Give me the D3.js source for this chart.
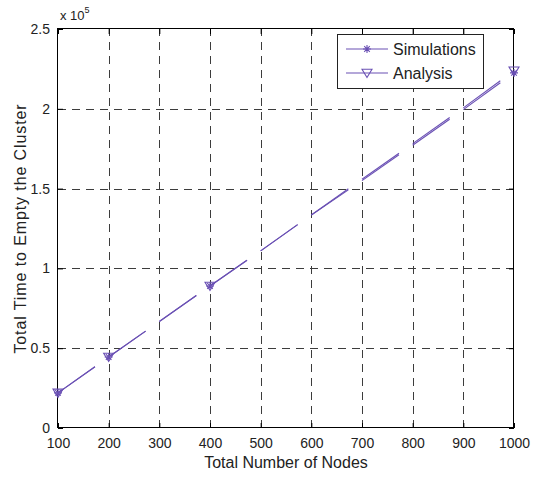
<!DOCTYPE html>
<html>
<head>
<meta charset="utf-8">
<script src="https://cdn.jsdelivr.net/npm/d3@7"></script>
<style>
  html, body { margin: 0; padding: 0; background: #fff; }
  svg { display: block; font-family: "Liberation Sans", Arial, sans-serif; }
</style>
</head>
<body>
<svg id="chart" width="535" height="481"></svg>
<script>
// Number of nodes in the cluster
const nodes = [100, 200, 300, 400, 500, 600, 700, 800, 900, 1000];
// Total time to empty the cluster
const simulations = [22000, 44500, 66700, 89000, 111000, 133500, 155000, 177200, 199500, 222500];
const analysis    = [22000, 44500, 66700, 89000, 111000, 133500, 155900, 178200, 200600, 223800];
// Node counts that carry a marker
const markedNodes = [100, 200, 400, 1000];

const xTicks = [100, 200, 300, 400, 500, 600, 700, 800, 900, 1000];
const xTickLabels = ["100", "200", "300", "400", "500", "600", "700", "800", "900", "1000"];
const yTicks = [0, 50000, 100000, 150000, 200000, 250000];
const yTickLabels = ["0", "0.5", "1", "1.5", "2", "2.5"];

const seriesNames = ["Simulations", "Analysis"];
const lineColor = "#6a50b4";

const svg = d3.select("#chart");
const plot = { left: 58, right: 514, top: 29, bottom: 428 };

const x = d3.scaleLinear().domain([100, 1000]).range([plot.left, plot.right]);
const y = d3.scaleLinear().domain([0, 250000]).range([plot.bottom, plot.top]);
const crisp = v => Math.round(v) + 0.5;

// dashed grid
const grid = svg.append("g").attr("stroke", "#3c3c3c").attr("stroke-width", 1)
  .attr("stroke-dasharray", "8,6").attr("fill", "none");
grid.selectAll("line.gx").data(xTicks.slice(1, -1)).join("line")
  .attr("x1", d => crisp(x(d))).attr("x2", d => crisp(x(d)))
  .attr("y1", plot.bottom).attr("y2", plot.top);
grid.selectAll("line.gy").data(yTicks.slice(1, -1)).join("line")
  .attr("y1", d => crisp(y(d))).attr("y2", d => crisp(y(d)))
  .attr("x1", plot.left).attr("x2", plot.right);

// axes with inward ticks on all four sides
const tickLen = 5;
const bottomAxis = d3.axisBottom(x).tickValues(xTicks).tickSizeInner(-tickLen).tickSizeOuter(0).tickPadding(10)
  .tickFormat((d, i) => xTickLabels[i]);
const leftAxis = d3.axisLeft(y).tickValues(yTicks).tickSizeInner(-tickLen).tickSizeOuter(0).tickPadding(8)
  .tickFormat((d, i) => yTickLabels[i]);
const topAxis = d3.axisTop(x).tickValues(xTicks).tickSizeInner(-tickLen).tickSizeOuter(0).tickFormat("");
const rightAxis = d3.axisRight(y).tickValues(yTicks).tickSizeInner(-tickLen).tickSizeOuter(0).tickFormat("");

function styleAxis(g) {
  g.select(".domain").remove();
  g.selectAll(".tick line").attr("stroke", "#000");
  g.selectAll(".tick text").attr("fill", "#222").attr("font-size", 14)
    .attr("font-family", "Liberation Sans, Arial, sans-serif");
}
svg.append("g").attr("transform", `translate(0,${plot.bottom})`).call(bottomAxis).call(styleAxis);
svg.append("g").attr("transform", `translate(${plot.left},0)`).call(leftAxis).call(styleAxis);
svg.append("g").attr("transform", `translate(0,${plot.top})`).call(topAxis).call(styleAxis);
svg.append("g").attr("transform", `translate(${plot.right},0)`).call(rightAxis).call(styleAxis);

// frame
svg.append("rect")
  .attr("x", crisp(plot.left) - 1).attr("y", crisp(plot.top) - 1)
  .attr("width", Math.round(plot.right - plot.left)).attr("height", Math.round(plot.bottom - plot.top))
  .attr("fill", "none").attr("stroke", "#000").attr("stroke-width", 1);

// data lines: each interval drawn as its own stroke
function drawSeries(values) {
  const segs = d3.pairs(nodes.map((n, i) => [x(n), y(values[i])]));
  svg.append("g").selectAll("line").data(segs).join("line")
    .attr("x1", d => d[0][0]).attr("y1", d => d[0][1])
    .attr("x2", d => d[1][0]).attr("y2", d => d[1][1])
    .attr("stroke", lineColor).attr("stroke-width", 1.1)
    .attr("stroke-dasharray", d => {
      const len = Math.hypot(d[1][0] - d[0][0], d[1][1] - d[0][1]);
      return `${(0.73 * len).toFixed(1)},${len.toFixed(1)}`;
    });
}
drawSeries(simulations);
drawSeries(analysis);

// marker shapes
function asterisk(g, cx, cy, r) {
  const p = d3.path();
  p.moveTo(cx, cy - r); p.lineTo(cx, cy + r);
  p.moveTo(cx - r * 0.7, cy - r * 0.7); p.lineTo(cx + r * 0.7, cy + r * 0.7);
  p.moveTo(cx - r * 0.7, cy + r * 0.7); p.lineTo(cx + r * 0.7, cy - r * 0.7);
  p.moveTo(cx - r, cy); p.lineTo(cx + r, cy);
  g.append("path").attr("d", p.toString()).attr("stroke", lineColor).attr("stroke-width", 1.1).attr("fill", "none");
}
function triangleDown(g, cx, cy, r) {
  const p = d3.path();
  p.moveTo(cx - r, cy - r * 0.75); p.lineTo(cx + r, cy - r * 0.75); p.lineTo(cx, cy + r * 0.9); p.closePath();
  g.append("path").attr("d", p.toString()).attr("stroke", lineColor).attr("stroke-width", 1.1).attr("fill", "none");
}

const markers = svg.append("g");
markedNodes.forEach(n => {
  const i = nodes.indexOf(n);
  asterisk(markers, x(n), y(simulations[i]), 4);
  triangleDown(markers, x(n), y(analysis[i]), 5);
});

// axis titles
svg.append("text").attr("x", (plot.left + plot.right) / 2).attr("y", 468)
  .attr("text-anchor", "middle").attr("font-size", 16).attr("fill", "#222")
  .text("Total Number of Nodes");
svg.append("text").attr("transform", `translate(26,${(plot.top + plot.bottom) / 2}) rotate(-90)`)
  .attr("text-anchor", "middle").attr("font-size", 16).attr("letter-spacing", 0.9).attr("fill", "#222")
  .text("Total Time to Empty the Cluster");

// exponent label
const expo = svg.append("text").attr("x", 60).attr("y", 20).attr("font-size", 13).attr("fill", "#222");
expo.append("tspan").text("x 10");
expo.append("tspan").attr("dy", -7).attr("font-size", 9).text("5");

// legend
const legend = svg.append("g");
legend.append("rect").attr("x", 337.5).attr("y", 34.5).attr("width", 146).attr("height", 54)
  .attr("fill", "#fff").attr("stroke", "#222").attr("stroke-width", 1);
const rowsY = [49, 73];
seriesNames.forEach((name, i) => {
  legend.append("line").attr("x1", 346).attr("x2", 388).attr("y1", rowsY[i]).attr("y2", rowsY[i])
    .attr("stroke", lineColor).attr("stroke-width", 1.1);
  if (i === 0) asterisk(legend, 367, rowsY[i], 4);
  else triangleDown(legend, 367, rowsY[i], 5);
  legend.append("text").attr("x", 393).attr("y", rowsY[i] + 6).attr("font-size", 16).attr("fill", "#222").text(name);
});
</script>
</body>
</html>
